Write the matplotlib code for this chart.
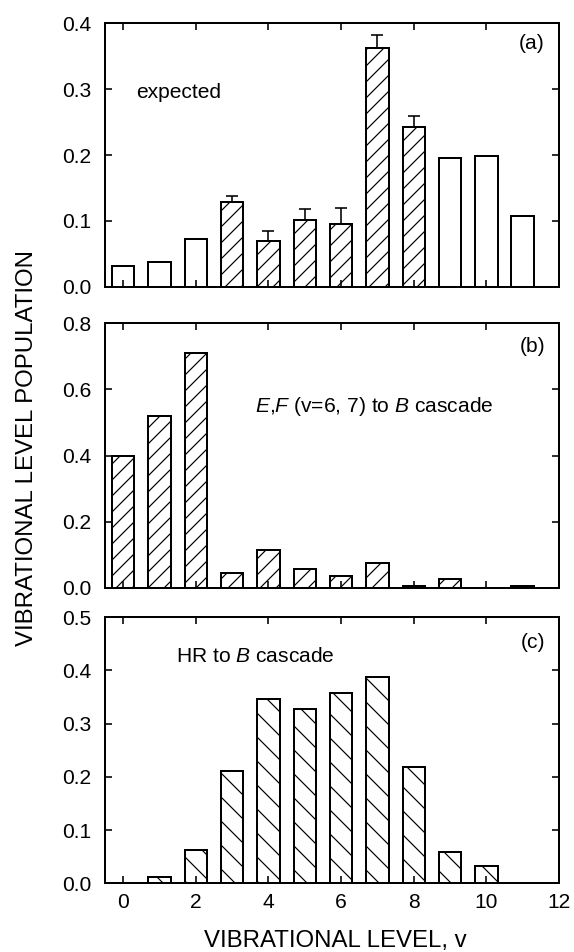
import numpy as np
import matplotlib.pyplot as plt

plt.rcParams['font.family'] = ['Liberation Sans', 'DejaVu Sans']
plt.rcParams['mathtext.fontset'] = 'custom'
plt.rcParams['mathtext.rm'] = 'Liberation Sans'
plt.rcParams['mathtext.it'] = 'Liberation Sans:italic'
plt.rcParams['hatch.linewidth'] = 0.6

# niveaux vibrationnels
levels = np.arange(12)

# (a) expected
pop_a = [0.032, 0.038, 0.072, 0.129, 0.069, 0.101, 0.096, 0.363, 0.242, 0.196, 0.198, 0.108]
measured_a = [False, False, False, True, True, True, True, True, True, False, False, False]
err_a = [0, 0, 0, 0.009, 0.016, 0.017, 0.023, 0.019, 0.017, 0, 0, 0]

# (b) E,F (v=6, 7) -> B cascade
pop_b = [0.399, 0.520, 0.709, 0.046, 0.115, 0.057, 0.036, 0.074, 0.007, 0.027, 0.0, 0.005]

# (c) HR -> B cascade
pop_c = [0.0, 0.011, 0.063, 0.211, 0.347, 0.327, 0.358, 0.388, 0.219, 0.059, 0.032, 0.0]

dpi = 144
fig = plt.figure(figsize=(574 / dpi, 952 / dpi), dpi=dpi)

left, width = 0.183, 0.791
ax_a = fig.add_axes([left, 0.6988, width, 0.2767])
ax_b = fig.add_axes([left, 0.3824, width, 0.2780])
ax_c = fig.add_axes([left, 0.0722, width, 0.2794])

bw = 0.62
lw = 1.0

# panel a
for v, p, m, e in zip(levels, pop_a, measured_a, err_a):
    ax_a.bar(v, p, width=bw, facecolor='white', edgecolor='black', linewidth=lw,
             hatch='///' if m else None)
    if m:
        ax_a.errorbar(v, p, yerr=[[0], [e]], fmt='none', ecolor='black',
                      elinewidth=0.8, capsize=3, capthick=0.8)

# panel b
ax_b.bar(levels, pop_b, width=bw, facecolor='white', edgecolor='black', linewidth=lw, hatch='///')

# panel c
ax_c.bar(levels, pop_c, width=bw, facecolor='white', edgecolor='black', linewidth=lw, hatch='\\\\')

ax_a.set_ylim(0, 0.4)
ax_a.set_yticks([0.0, 0.1, 0.2, 0.3, 0.4])
ax_b.set_ylim(0, 0.8)
ax_b.set_yticks([0.0, 0.2, 0.4, 0.6, 0.8])
ax_c.set_ylim(0, 0.5)
ax_c.set_yticks([0.0, 0.1, 0.2, 0.3, 0.4, 0.5])

for ax in (ax_a, ax_b, ax_c):
    ax.set_xlim(-0.5, 12)
    ax.set_xticks(np.arange(0, 13, 2))
    ax.yaxis.set_major_formatter(plt.FormatStrFormatter('%.1f'))
    ax.tick_params(direction='in', top=True, right=True, length=3.5, width=0.8,
                   labelsize=10.5)
    ax.tick_params(axis='y', pad=7)
    ax.tick_params(axis='x', pad=5)
    for s in ax.spines.values():
        s.set_linewidth(1.0)

ax_a.tick_params(axis='x', labelbottom=False)
ax_b.tick_params(axis='x', labelbottom=False)

ax_a.text(11.24, 0.370, '(a)', fontsize=10.5, ha='center', va='center')
ax_b.text(11.27, 0.729, '(b)', fontsize=10.5, ha='center', va='center')
ax_c.text(11.27, 0.452, '(c)', fontsize=10.5, ha='center', va='center')

ax_a.text(0.36, 0.295, 'expected', fontsize=10.5, va='center')
ax_b.text(3.62, 0.548, r'$E$,$F$ (v=6, 7) to $B$ cascade', fontsize=10.5, va='center')
ax_c.text(1.46, 0.426, r'HR to $B$ cascade', fontsize=10.5, va='center')

fig.text(0.047, 0.529, 'VIBRATIONAL LEVEL POPULATION', fontsize=12, rotation=90,
         ha='center', va='center')
fig.text(0.584, 0.0053, 'VIBRATIONAL LEVEL, v', fontsize=12, ha='center', va='baseline')

fig.savefig('out.png', dpi=dpi)
